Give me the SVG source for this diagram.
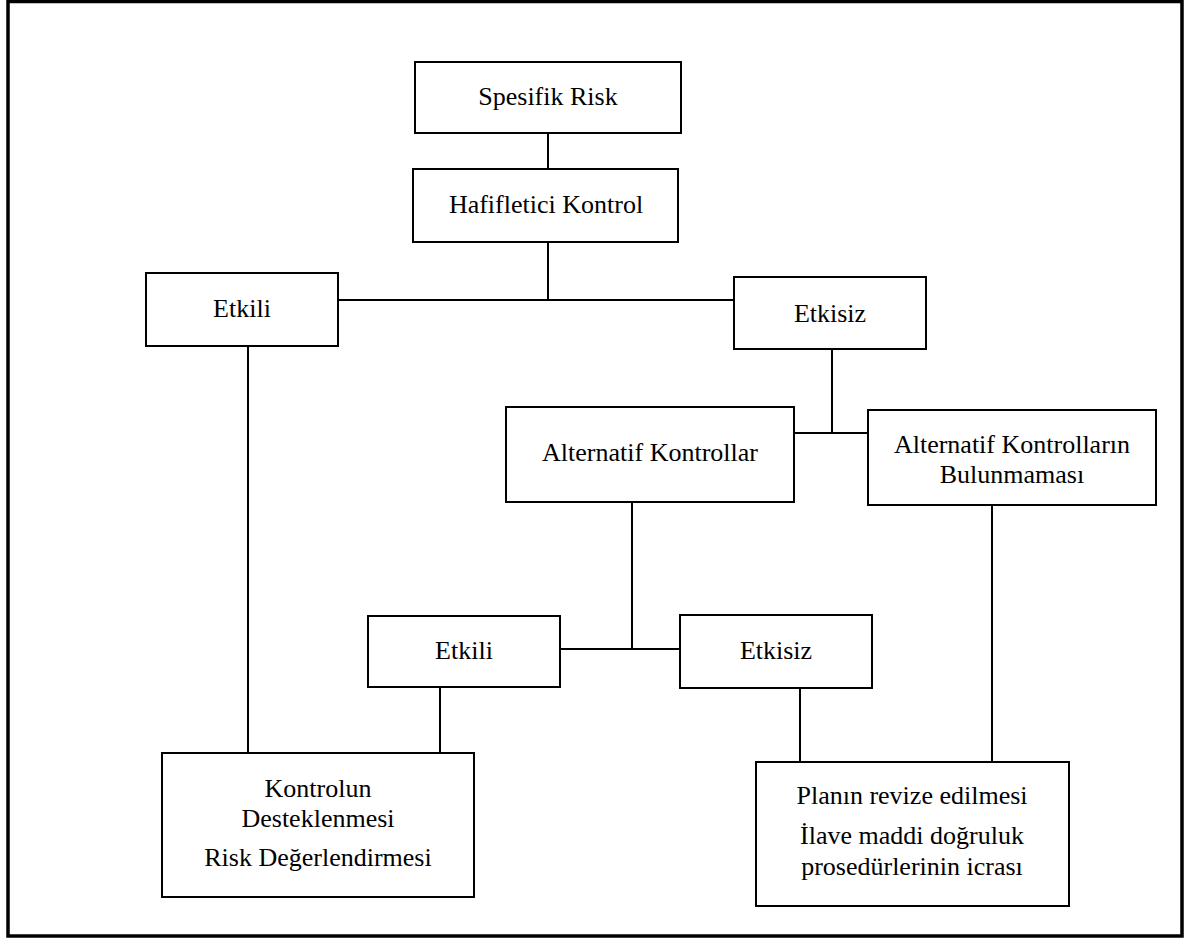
<svg xmlns="http://www.w3.org/2000/svg" width="1184" height="938" viewBox="0 0 1184 938">
<style>
.box{fill:#fff;stroke:#000;stroke-width:2}
.ln{stroke:#000;stroke-width:2;fill:none}
text{font-family:"Liberation Serif","Times New Roman",serif;font-size:26px;fill:#000;text-anchor:middle}
</style>
<rect x="0" y="0" width="1184" height="938" fill="#fff"/>
<rect x="8" y="1.5" width="1174" height="934.5" fill="none" stroke="#000" stroke-width="3.5"/>
<g id="connectors">
<line class="ln" x1="548" y1="133" x2="548" y2="169"/>
<line class="ln" x1="548" y1="242" x2="548" y2="300"/>
<line class="ln" x1="338" y1="300" x2="734" y2="300"/>
<line class="ln" x1="248" y1="346" x2="248" y2="753"/>
<line class="ln" x1="832" y1="349" x2="832" y2="433"/>
<line class="ln" x1="794" y1="433" x2="868" y2="433"/>
<line class="ln" x1="632" y1="502" x2="632" y2="649"/>
<line class="ln" x1="560" y1="649" x2="680" y2="649"/>
<line class="ln" x1="440" y1="687" x2="440" y2="753"/>
<line class="ln" x1="800" y1="688" x2="800" y2="762"/>
<line class="ln" x1="992" y1="505" x2="992" y2="762"/>
</g>
<g id="spesifik-risk">
<rect class="box" x="415" y="62" width="266" height="71"/>
<text x="548" y="105">Spesifik Risk</text>
</g>
<g id="hafifletici-kontrol">
<rect class="box" x="413" y="169" width="265" height="73"/>
<text x="546" y="213">Hafifletici Kontrol</text>
</g>
<g id="etkili-1">
<rect class="box" x="146" y="273" width="192" height="73"/>
<text x="242" y="317">Etkili</text>
</g>
<g id="etkisiz-1">
<rect class="box" x="734" y="277" width="192" height="72"/>
<text x="830" y="322">Etkisiz</text>
</g>
<g id="alternatif-kontrollar">
<rect class="box" x="506" y="407" width="288" height="95"/>
<text x="650" y="461">Alternatif Kontrollar</text>
</g>
<g id="alternatif-kontrollarin-bulunmamasi">
<rect class="box" x="868" y="410" width="288" height="95"/>
<text x="1012" y="453">Alternatif Kontrolların</text>
<text x="1012" y="483">Bulunmaması</text>
</g>
<g id="etkili-2">
<rect class="box" x="368" y="616" width="192" height="71"/>
<text x="464" y="659">Etkili</text>
</g>
<g id="etkisiz-2">
<rect class="box" x="680" y="615" width="192" height="73"/>
<text x="776" y="659">Etkisiz</text>
</g>
<g id="kontrolun-desteklenmesi">
<rect class="box" x="162" y="753" width="312" height="144"/>
<text x="318" y="797">Kontrolun</text>
<text x="318" y="827">Desteklenmesi</text>
<text x="318" y="866">Risk Değerlendirmesi</text>
</g>
<g id="planin-revize">
<rect class="box" x="756" y="762" width="313" height="144"/>
<text x="912" y="804">Planın revize edilmesi</text>
<text x="912" y="844">İlave maddi doğruluk</text>
<text x="912" y="875">prosedürlerinin icrası</text>
</g>
</svg>
